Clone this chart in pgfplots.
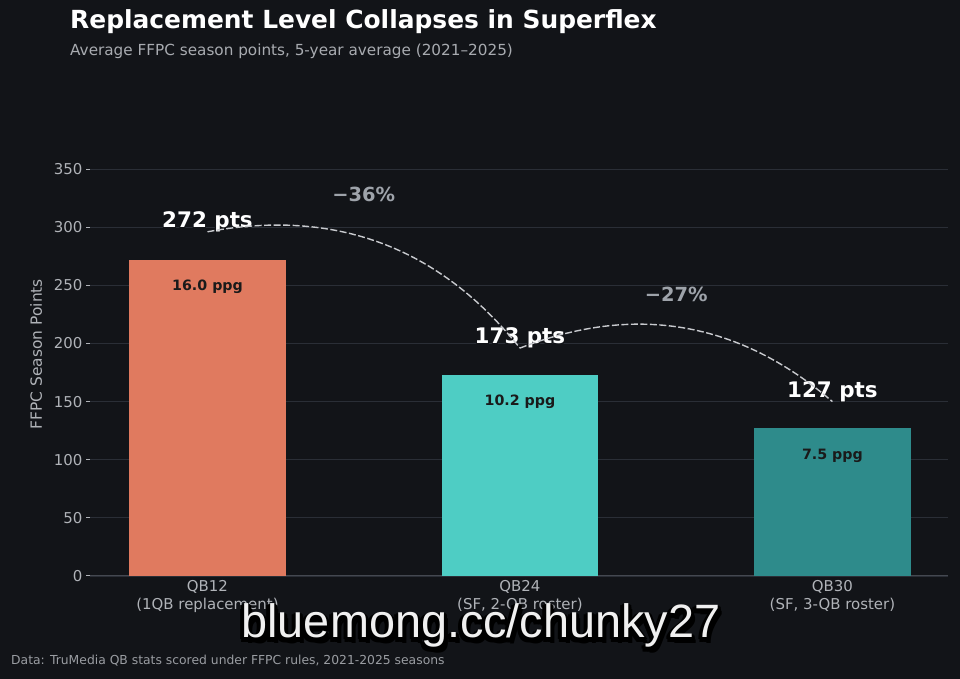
\documentclass[border=0pt]{standalone}
\usepackage{fontspec}
\setmainfont{DejaVu Sans}
\newfontfamily\wmfont{Liberation Sans}
\usepackage{pgfplots}
\pgfplotsset{compat=1.18}
\definecolor{bg}{HTML}{121418}
\definecolor{gridc}{HTML}{2A2E36}
\definecolor{axisc}{HTML}{444850}
\definecolor{tickc}{HTML}{B0B3B8}
\definecolor{subc}{HTML}{A8ABB0}
\definecolor{footc}{HTML}{9A9DA2}
\definecolor{pctc}{HTML}{9EA3AA}
\definecolor{curvec}{HTML}{C8CACE}
\definecolor{barA}{HTML}{E07A5F}
\definecolor{barB}{HTML}{4ECDC4}
\definecolor{barC}{HTML}{2E8B8B}
\definecolor{ppgc}{HTML}{1A1A1A}
\newcommand\outl[2]{%
  \foreach \dx/\dy in {-1.3/0,1.3/0,0/1.3,0/-1.3,-0.9/-0.9,0.9/0.9,-0.9/0.9,0.9/-0.9}{%
    \node[text=bg,font=\bfseries\fontsize{21.5}{24}\selectfont,xshift=\dx bp,yshift=\dy bp] at (#1) {#2};}%
  \node[text=white,font=\bfseries\fontsize{21.5}{24}\selectfont] at (#1) {#2};}
\begin{document}
\begin{tikzpicture}[x=1bp,y=1bp]
\fill[bg] (0,0) rectangle (960,679);
\useasboundingbox (0,0) rectangle (960,679);
\begin{axis}[
  at={(90bp,103bp)}, anchor=south west,
  scale only axis, width=858bp, height=418.6bp,
  xmin=-0.376, xmax=2.37, ymin=0, ymax=360,
  ytick={0,50,100,150,200,250,300,350},
  xtick={0,1,2},
  xticklabels={{QB12\\(1QB replacement)},{QB24\\(SF, 2-QB roster)},{QB30\\(SF, 3-QB roster)}},
  axis x line*=bottom, axis y line*=left,
  y axis line style={draw=none},
  x axis line style={draw=axisc, line width=1bp},
  ymajorgrids, grid style={gridc, line width=0.8bp},
  tick align=outside, major tick length=4bp,
  ytick style={draw=tickc, line width=1bp},
  xtick style={draw=none},
  /pgf/number format/assume math mode=true,
  yticklabel style={font=\fontsize{15}{18}\selectfont, text=tickc},
  xticklabel style={font=\fontsize{15}{17.5}\selectfont, text=tickc, align=center, yshift=3bp},
  ylabel={FFPC Season Points},
  every axis y label/.style={at={(axis description cs:-0.0629,0.530)}, rotate=90, anchor=center, font=\fontsize{15.5}{18}\selectfont, text=tickc},
  ybar, bar width=0.5, bar shift=0pt,
  clip=false,
]
\addplot[fill=barA, draw=none] coordinates {(0,272)};
\addplot[fill=barB, draw=none] coordinates {(1,173)};
\addplot[fill=barC, draw=none] coordinates {(2,127)};
\node[text=ppgc, font=\bfseries\fontsize{14.3}{17}\selectfont] at (axis cs:0,248.5) {16.0 ppg};
\node[text=ppgc, font=\bfseries\fontsize{14.3}{17}\selectfont] at (axis cs:1,149.5) {10.2 ppg};
\node[text=ppgc, font=\bfseries\fontsize{14.3}{17}\selectfont] at (axis cs:2,103.5) {7.5 ppg};
\node[text=pctc, font=\bfseries\fontsize{19.5}{22}\selectfont] at (axis cs:0.5,328) {−36\%};
\node[text=pctc, font=\bfseries\fontsize{19.5}{22}\selectfont] at (axis cs:1.5,242) {−27\%};
\coordinate (L1) at (axis cs:0,304.5);
\coordinate (L2) at (axis cs:1,204.5);
\coordinate (L3) at (axis cs:2,158.5);
\coordinate (P0) at (axis cs:0,296);
\coordinate (C1) at (axis cs:0.4078,316.4);
\coordinate (C2) at (axis cs:0.7411,283.1);
\coordinate (P1) at (axis cs:1,196);
\coordinate (D1) at (axis cs:1.3676,234.4);
\coordinate (D2) at (axis cs:1.7009,219.07);
\coordinate (P2) at (axis cs:2,150);
\end{axis}
\outl{L1}{272 pts}
\outl{L2}{173 pts}
\outl{L3}{127 pts}
\draw[curvec, line width=1.4bp, dash pattern=on 7bp off 2.5bp] (P0) .. controls (C1) and (C2) .. (P1);
\draw[curvec, line width=1.4bp, dash pattern=on 7bp off 2.5bp] (P1) .. controls (D1) and (D2) .. (P2);
\node[anchor=base west, text=white, font=\bfseries\fontsize{25}{30}\selectfont, inner sep=0] at (70,650) {Replacement Level Collapses in Superflex};
\node[anchor=base west, text=subc, font=\fontsize{15.3}{18}\selectfont, inner sep=0] at (70,623) {Average FFPC season points, 5-year average (2021–2025)};
\node[anchor=base west, text=footc, font=\fontsize{12.4}{14}\selectfont, inner sep=0] at (11,14) {Data: TruMedia QB stats scored under FFPC rules, 2021-2025 seasons};
\foreach \dx/\dy in {-2/-1,0/-2,2/-3,-1/-4,1/-5,3/-4,-2/-3,0/0,2/-1,3/-2,-3/-5,4/-6,-4/-2}{%
  \node[anchor=base, text=black, font=\wmfont\fontsize{47}{50}\selectfont, inner sep=0, xshift=\dx bp, yshift=\dy bp] at (481,41) {bluemong.cc/chunky27};}
\node[anchor=base, text=white!94!black, font=\wmfont\fontsize{47}{50}\selectfont, inner sep=0] at (481,41) {bluemong.cc/chunky27};
\end{tikzpicture}
\end{document}
